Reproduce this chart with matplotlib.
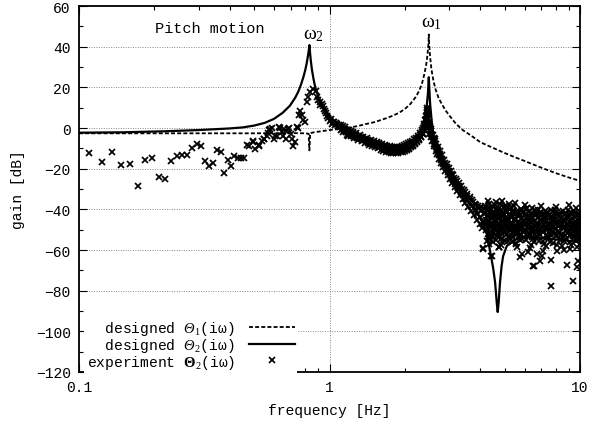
import matplotlib
matplotlib.use("Agg")
import matplotlib.pyplot as plt
from matplotlib.ticker import FixedLocator, NullFormatter, MultipleLocator

plt.rcParams['font.family'] = ['Liberation Mono', 'DejaVu Sans']
plt.rcParams['mathtext.fontset'] = 'custom'
plt.rcParams['mathtext.rm'] = 'Liberation Serif'
plt.rcParams['mathtext.it'] = 'Liberation Serif:italic'
plt.rcParams['mathtext.sf'] = 'Liberation Serif:italic'   # used for the italic capital Theta
plt.rcParams['mathtext.bf'] = 'Liberation Serif:bold'

# designed Theta_1 (dashed)
theta1_freq = [0.1, 0.2, 0.3, 0.5, 0.7, 0.8, 0.825, 0.831, 0.837, 0.85, 0.9, 1.0, 1.1, 1.2,
               1.3, 1.4, 1.5, 1.6, 1.7, 1.8, 1.9, 2.0, 2.1, 2.2, 2.28, 2.34, 2.39, 2.43, 2.46,
               2.48, 2.49, 2.50, 2.52, 2.55, 2.6, 2.65, 2.72, 2.8, 2.9, 3.0, 3.2, 3.4, 3.6, 3.8,
               4.0, 4.5, 5.0, 5.5, 6.0, 7.0, 8.0, 9.0, 10.0]
theta1_gain = [-2.6, -2.6, -2.6, -2.6, -2.5, -2.6, -2.8, -11.0, -2.6, -2.3, -1.8, -1.0, -0.4, 0.2,
               1.0, 2.0, 2.8, 3.9, 5.0, 6.2, 7.6, 9.4, 11.8, 15.0, 18.3, 22.0, 26.5, 31.0, 36.0,
               41.0, 46.0, 41.0, 35.0, 29.0, 23.0, 19.0, 15.0, 12.0, 8.8, 6.3, 2.0, -1.0, -3.0, -5.0,
               -7.0, -9.8, -12.3, -14.4, -16.2, -19.5, -22.2, -24.3, -26.0]

# designed Theta_2 (solid)
theta2_freq = [0.1, 0.15, 0.22, 0.3, 0.4, 0.45, 0.5, 0.55, 0.6, 0.65, 0.695, 0.73, 0.751, 0.77,
               0.786, 0.8, 0.811, 0.82, 0.827, 0.831, 0.836, 0.842, 0.851, 0.862, 0.875, 0.895,
               0.916, 0.95, 1.0, 1.05, 1.1, 1.2, 1.325, 1.49, 1.65, 1.79, 1.91, 2.0, 2.1, 2.2,
               2.3, 2.38, 2.41, 2.44, 2.47, 2.49, 2.5, 2.52, 2.55, 2.58, 2.62, 2.68, 2.76, 2.94,
               3.12, 3.32, 3.53, 3.87, 4.1, 4.24, 4.38, 4.5, 4.58, 4.65, 4.69, 4.73, 4.79, 4.86,
               4.93, 5.1, 5.4, 5.7, 6.2, 7.0, 8.0, 9.0, 10.0]
theta2_gain = [-2.3, -2.1, -1.6, -1.0, -0.2, 0.3, 1.2, 2.5, 4.5, 7.5, 11.0, 15.0, 18.0, 21.5,
               25.0, 28.5, 32.0, 35.5, 38.5, 40.8, 37.0, 33.0, 28.5, 24.5, 20.5, 16.5,
               13.5, 10.0, 6.0, 3.2, 1.0, -2.0, -4.5, -7.5, -9.5, -10.3, -10.5, -10.0, -8.7, -7.0,
               -4.5, 0.0, 4.4, 10.0, 17.0, 25.0, 20.0, 12.0, 5.0, -1.0, -6.0, -10.5, -14.0, -20.0,
               -25.0, -30.0, -35.0, -41.0, -47.0, -52.0, -61.0, -69.0, -76.0, -86.0, -90.5, -86.0, -76.0, -68.0,
               -63.0, -58.0, -55.6, -54.2, -53.6, -54.0, -54.8, -55.5, -56.0]

# experiment Theta_2 (markers)
exp_freq = [
    0.110, 0.123, 0.135, 0.147, 0.160, 0.172, 0.184, 0.196, 0.209, 0.221, 0.233, 0.246,
    0.257, 0.271, 0.283, 0.295, 0.307, 0.318, 0.330, 0.344, 0.357, 0.368, 0.380, 0.392,
    0.403, 0.417, 0.430, 0.442, 0.456, 0.467, 0.478, 0.494, 0.506, 0.522, 0.536, 0.549,
    0.561, 0.575, 0.588, 0.600, 0.615, 0.630, 0.644, 0.658, 0.670, 0.685, 0.702, 0.717,
    0.728, 0.740, 0.758,
    0.497, 0.524, 0.548, 0.570, 0.581, 0.605, 0.637, 0.653, 0.673, 0.690, 0.706, 0.751,
    0.762, 0.775, 0.786, 0.797, 0.810, 0.823, 0.838, 0.862, 0.887, 0.890, 0.915, 0.938,
    0.960, 0.980, 1.00, 1.03, 1.07, 1.10, 1.15, 1.19,
    0.90, 0.92, 0.93, 0.95, 0.97, 0.99, 1.01, 1.02, 1.04, 1.05, 1.06, 1.08, 1.09, 1.11,
    1.12, 1.13, 1.14, 1.15, 1.16, 1.17, 1.18, 1.19, 1.20, 1.21, 1.22, 1.23, 1.24, 1.25,
    1.26, 1.27, 1.28, 1.29, 1.30, 1.31, 1.33, 1.34, 1.35, 1.37, 1.38, 1.40, 1.42, 1.43,
    1.45, 1.47, 1.49, 1.51, 1.53, 1.55, 1.57, 1.59, 1.61, 1.63, 1.65, 1.67, 1.69, 1.71,
    1.73, 1.75, 1.77, 1.79, 1.81, 1.83, 1.85, 1.87, 1.89, 1.91, 1.93, 1.95, 1.97, 1.99,
    2.01, 2.03, 2.05, 2.07, 2.09, 2.11, 2.13, 2.15, 2.17, 2.19, 2.21, 2.23, 2.25, 2.27,
    2.29, 2.31, 2.33, 2.35, 2.37, 2.38, 2.39, 2.40, 2.41, 2.42, 2.43, 2.44, 2.45, 2.46,
    1.115, 1.135, 1.155, 1.175, 1.195, 1.215, 1.235, 1.255, 1.275, 1.295, 1.32, 1.345,
    1.365, 1.39, 1.41, 1.44, 1.46, 1.48, 1.50, 1.52, 1.54, 1.56, 1.58, 1.60, 1.62, 1.64,
    1.66, 1.68, 1.70, 1.72, 1.74, 1.76, 1.78, 1.80, 1.82, 1.84, 1.86, 1.88, 1.90, 1.92,
    1.94, 1.96, 1.98, 2.00, 2.02, 2.04, 2.06, 2.08, 2.10, 2.12, 2.14, 2.16, 2.18, 2.20,
    2.22, 2.24, 2.26, 2.28, 2.30, 2.32, 2.34, 2.36, 2.38, 2.40, 2.42, 2.44, 2.46, 2.45,
    2.47, 2.48, 2.49, 2.50, 2.51, 2.52, 2.53, 2.54, 2.55, 2.57, 2.58, 2.60, 2.62, 2.64,
    2.66, 2.68, 2.70, 2.72, 2.74, 2.77, 2.79, 2.82, 2.85, 2.88, 2.91, 2.94, 2.97, 3.00,
    3.04, 3.07, 3.10, 3.14, 3.18, 3.22, 3.26, 3.30, 3.34, 3.38, 3.42, 3.46, 3.50, 3.55,
    3.60, 3.64, 3.69, 3.74, 3.79, 3.84, 3.89, 3.94, 3.99, 4.04, 4.09, 4.14,
    2.475, 2.505, 2.535, 2.565, 2.59, 2.61, 2.63, 2.65, 2.67, 2.69, 2.71, 2.73, 2.76, 2.78,
    2.81, 2.84, 2.87, 2.90, 2.93, 2.96, 2.99, 3.02, 3.05, 3.09, 3.12, 3.16, 3.20, 3.24,
    3.28, 3.32, 3.36, 3.40, 3.44, 3.48, 3.53, 3.58, 3.62, 3.67, 3.72, 3.77, 3.82, 3.87,
    3.92, 3.97, 4.02, 4.07, 4.12, 4.16,
    4.18, 4.21, 4.24, 4.27, 4.30, 4.33, 4.36, 4.39, 4.42, 4.45, 4.48, 4.51, 4.54, 4.57,
    4.60, 4.63, 4.66, 4.69, 4.72, 4.75, 4.78, 4.81, 4.84, 4.87, 4.90, 4.93, 4.96, 4.99,
    5.03, 5.06, 5.10, 5.13, 5.17, 5.20, 5.24, 5.27, 5.31, 5.35, 5.38, 5.42, 5.46, 5.50,
    5.54, 5.58, 5.62, 5.66, 5.70, 5.74, 5.78, 5.82, 5.86, 5.90, 5.95, 6.00, 6.05, 6.10,
    6.15, 6.20, 6.25, 6.30, 6.35, 6.40, 6.45, 6.50, 6.55, 6.60, 6.65, 6.70, 6.75, 6.80,
    6.86, 6.92, 6.98, 7.04, 7.10, 7.16, 7.22, 7.28, 7.34, 7.40, 7.46, 7.52, 7.58, 7.64,
    7.70, 7.76, 7.82, 7.88, 7.94, 8.00, 8.07, 8.14, 8.21, 8.28, 8.35, 8.42, 8.49, 8.56,
    8.63, 8.70, 8.77, 8.84, 8.91, 8.98, 9.05, 9.12, 9.19, 9.26, 9.33, 9.40, 9.47, 9.54,
    9.61, 9.68, 9.75, 9.82, 9.89, 9.95, 10.0,
    4.22, 4.31, 4.40, 4.50, 4.59, 4.68, 4.77, 4.86, 4.95, 5.05, 5.15, 5.25, 5.36, 5.47,
    5.59, 5.71, 5.84, 5.97, 6.12, 6.27, 6.42, 6.58, 6.73, 6.89, 7.07, 7.25, 7.43, 7.61,
    7.79, 7.97, 8.17, 8.38, 8.59, 8.81, 9.02, 9.23, 9.44, 9.65, 9.86, 9.98,
    4.19, 4.26, 4.29, 4.35, 4.41, 4.44, 4.47, 4.53, 4.56, 4.62, 4.65, 4.71, 4.74, 4.80,
    4.83, 4.89, 4.92, 4.98, 5.01, 5.08, 5.12, 5.19, 5.22, 5.29, 5.33, 5.40, 5.44, 5.52,
    5.56, 5.64, 5.68, 5.76, 5.80, 5.88, 5.93, 6.02, 6.07, 6.17, 6.22, 6.32, 6.37, 6.47,
    6.52, 6.62, 6.68, 6.78, 6.83, 6.95, 7.01, 7.13, 7.19, 7.31, 7.37, 7.49, 7.55, 7.67,
    7.73, 7.85, 7.91, 8.04, 8.11, 8.25, 8.32, 8.46, 8.53, 8.67, 8.74, 8.88, 8.95, 9.09,
    9.16, 9.30, 9.37, 9.51, 9.58, 9.72, 9.79, 9.92, 9.99, 4.34, 4.85, 5.57, 6.39, 7.20,
    8.10, 9.20, 9.70,
    4.20, 4.25, 4.28, 4.32, 4.37, 4.43, 4.49, 4.52, 4.58, 4.61, 4.67, 4.70, 4.76, 4.82,
    4.88, 4.94, 5.00, 5.07, 5.11, 5.18, 5.23, 5.30, 5.34, 5.41, 5.48, 5.53, 5.61, 5.67,
    5.73, 5.81, 5.87, 5.94, 6.03, 6.09, 6.18, 6.24, 6.33, 6.41, 6.49, 6.56, 6.63, 6.72,
    6.81, 6.90, 6.99, 7.08, 7.17, 7.27, 7.36, 7.45, 7.54, 7.63, 7.72, 7.81, 7.90, 8.01,
    8.12, 8.23, 8.34, 8.44, 8.55, 8.66, 8.76, 8.87, 8.97, 9.08, 9.18, 9.28, 9.39, 9.49,
    9.60, 9.71, 9.80, 9.90, 9.97,
    4.09, 4.11, 4.40, 4.45, 4.74, 4.76, 5.76, 5.85, 6.22, 6.51, 6.57, 6.92, 7.02, 7.10,
    7.64, 7.64, 8.07, 8.45, 8.89, 9.12, 9.35, 9.75, 9.84, 5.60, 6.30, 6.70, 7.30, 8.60,
    4.30, 4.60, 4.90, 5.20, 5.50, 6.00, 7.00, 8.00, 9.00, 9.60,
]
exp_gain = [
    -12.4, -16.9, -11.6, -18.0, -17.7, -28.4, -15.7, -14.8, -24.3, -25.1, -16.1, -13.6,
    -13.1, -13.1, -9.8, -7.9, -8.7, -16.4, -18.5, -17.2, -10.8, -11.6, -22.1, -15.7,
    -18.9, -13.6, -14.9, -14.9, -14.9, -8.2, -8.7, -6.5, -10.3, -8.2, -6.2, -5.4,
    -3.8, -1.0, -0.1, -5.4, -3.8, 0.3, -2.1, -0.5, -5.4, -0.5, -3.0, -8.7,
    -7.0, 0.3, 6.4,
    -6.7, -9.0, -5.4, -2.5, -0.5, -4.1, -0.2, -3.8, -1.3, -0.2, -5.4, -0.2,
    8.5, 6.4, 4.1, 2.8, 12.6, 15.1, 17.6, 19.2, 18.3, 15.1, 12.6, 10.7,
    8.5, 6.1, 3.6, 2.8, 2.0, 0.3, -1.3, -3.8,
    14.0, 11.5, 12.0, 9.5, 7.5, 5.0, 4.5, 2.2, 3.0, 1.5, 2.5, 0.8, 1.5, -0.8,
    -0.5, 0.8, -1.2, -0.3, -2.0, -1.1, -2.4, -1.5, -3.0, -2.2, -1.6, -3.4, -2.6, -3.9,
    -3.0, -4.3, -3.5, -4.8, -3.9, -5.1, -4.5, -5.6, -4.8, -6.1, -5.2, -6.4, -5.9, -7.2,
    -6.5, -7.7, -6.9, -8.2, -7.4, -8.8, -8.0, -9.3, -8.5, -9.8, -8.9, -10.2, -9.3, -10.6,
    -9.6, -11.1, -9.9, -11.4, -10.1, -11.0, -9.8, -11.3, -10.4, -11.5, -10.0, -11.0, -9.6, -10.6,
    -9.2, -10.1, -8.7, -9.6, -8.0, -9.0, -7.6, -8.3, -6.8, -7.6, -6.0, -6.6, -4.8, -5.5,
    -3.6, -4.2, -2.0, -2.8, 0.0, -1.0, 2.0, 0.5, 4.0, 2.5, 6.0, 8.0, 10.0, 6.5,
    1.5, -2.0, 0.5, -3.2, -0.8, -3.8, -1.8, -5.0, -2.6, -5.8, -3.4, -6.5,
    -4.2, -7.3, -5.0, -8.2, -5.8, -8.9, -6.4, -9.4, -7.0, -10.0, -7.6, -10.6, -8.0, -11.2,
    -8.4, -11.6, -8.8, -12.0, -9.0, -12.2, -9.2, -12.4, -9.3, -12.3, -9.2, -12.2, -9.1, -12.0,
    -8.9, -11.7, -8.5, -11.3, -8.0, -10.8, -7.5, -10.2, -6.9, -9.5, -6.3, -8.8, -5.6, -8.0,
    -4.8, -7.0, -3.8, -5.8, -2.5, -4.4, -1.0, -2.8, 1.0, -1.0, 4.5, 3.0, 9.0, 4.5,
    7.0, 4.5, 1.5, 3.0, -1.0, 0.5, -3.0, -1.5, -4.5, -3.5, -6.0, -5.0, -8.0, -6.5,
    -9.5, -10.5, -12.0, -11.0, -13.5, -13.0, -15.5, -15.0, -17.5, -17.0, -19.5, -19.0, -21.5, -21.0,
    -23.5, -22.5, -25.5, -24.5, -27.5, -26.0, -29.5, -28.5, -31.5, -30.0, -33.0, -31.5, -35.0, -33.5,
    -37.0, -35.0, -38.5, -36.5, -40.5, -38.0, -42.5, -39.5, -44.0, -41.0, -46.0, -42.5,
    2.0, -3.0, -0.5, -6.5, -3.5, -9.0, -5.5, -11.5, -8.0, -13.0, -9.5, -15.0, -11.5, -17.0,
    -13.5, -19.0, -15.5, -21.0, -17.5, -23.0, -19.5, -25.0, -21.0, -27.0, -23.0, -29.0, -25.0, -31.0,
    -27.0, -33.0, -28.5, -35.0, -30.5, -37.0, -32.5, -39.0, -34.0, -41.0, -35.5, -43.0, -37.5, -45.0,
    -38.5, -47.0, -39.0, -49.0, -40.0, -46.0,
    -38.5, -45.0, -40.5, -48.5, -43.0, -37.5, -51.0, -44.5, -40.0, -53.5, -46.5, -41.5, -49.5, -38.0,
    -55.0, -45.5, -42.0, -51.5, -47.0, -39.5, -53.0, -44.0, -49.0, -41.0, -56.0, -46.0, -50.5, -43.0,
    -38.5, -52.5, -47.5, -41.5, -55.5, -45.0, -50.0, -43.5, -39.5, -53.0, -47.0, -42.0, -51.0, -44.5,
    -56.5, -48.5, -41.0, -46.0, -52.5, -43.0, -49.5, -40.0, -54.5, -45.5, -50.5, -42.5, -47.5, -55.0,
    -44.0, -49.0, -41.5, -52.0, -46.0, -39.5, -50.0, -44.5, -56.0, -48.0, -42.5, -53.5, -46.5, -40.5,
    -51.5, -45.0, -49.5, -43.0, -55.5, -47.5, -41.0, -52.5, -45.5, -50.0, -43.5, -54.0, -47.0, -40.5,
    -51.0, -44.0, -56.5, -48.5, -42.0, -53.0, -46.0, -50.5, -43.5, -55.0, -47.5, -41.5, -52.0, -45.0,
    -49.0, -43.0, -54.5, -47.0, -40.5, -51.5, -45.5, -56.0, -48.5, -42.5, -53.0, -46.5, -50.5, -44.0,
    -55.5, -48.0, -43.0, -52.0, -46.0, -57.0, -49.5,
    -50.0, -53.0, -47.5, -56.0, -43.5, -48.0, -42.5, -52.0, -39.0, -45.5, -49.0, -54.0, -44.0, -38.5,
    -52.0, -48.0, -44.5, -53.5, -39.5, -47.0, -53.5, -43.0, -49.5, -42.0, -48.5, -44.0, -53.5, -50.0,
    -45.5, -40.5, -48.0, -44.5, -55.5, -42.0, -50.0, -45.0, -41.0, -51.5, -42.5, -54.5,
    -42.0, -55.5, -39.5, -47.0, -55.0, -42.5, -38.5, -51.5, -45.0, -40.0, -53.0, -44.0, -49.5, -37.5,
    -54.5, -46.0, -42.0, -48.0, -55.5, -44.5, -39.0, -50.0, -42.5, -47.5, -56.0, -41.0, -49.0, -45.0,
    -52.0, -42.0, -49.5, -55.0, -46.5, -40.5, -51.0, -46.0, -40.0, -53.0, -45.5, -48.5, -42.0, -54.5,
    -47.5, -40.5, -51.0, -44.5, -55.5, -47.0, -41.5, -51.0, -44.5, -49.0, -41.5, -46.5, -56.0, -44.0,
    -48.5, -52.0, -45.0, -49.5, -43.0, -51.5, -45.5, -47.0, -41.0, -52.5, -46.0, -49.0, -44.0, -53.0,
    -42.0, -47.5, -51.0, -48.0, -42.0, -54.0, -47.0, -44.5, -51.0, -57.0, -57.5, -57.0, -57.5, -57.0,
    -57.5, -57.5, -58.5,
    -47.0, -43.5, -52.0, -45.5, -41.0, -49.0, -43.0, -47.5, -52.5, -49.5, -44.5, -40.5, -46.5, -50.5,
    -43.5, -48.5, -51.0, -40.5, -45.0, -53.0, -47.0, -44.0, -49.5, -53.5, -48.5, -41.5, -50.5, -43.5,
    -47.0, -52.5, -48.0, -42.0, -50.0, -44.5, -49.5, -51.5, -44.0, -48.5, -51.0, -45.5, -50.5, -47.5,
    -42.5, -52.5, -45.0, -50.5, -42.5, -46.0, -53.0, -49.0, -43.0, -52.5, -46.5, -50.5, -43.5, -46.0,
    -52.5, -47.5, -42.5, -53.5, -48.5, -45.0, -50.5, -43.5, -47.5, -41.5, -52.0, -44.5, -49.0, -53.0,
    -46.0, -50.0, -45.0, -49.0, -41.5,
    -59.2, -59.5, -62.8, -62.8, -58.7, -58.7, -63.6, -62.0, -61.0, -67.7, -67.7, -65.3, -62.8, -60.4,
    -65.0, -77.9, -60.4, -57.9, -67.2, -59.5, -75.1, -68.5, -65.3, -58.5, -59.0, -62.0, -58.0, -60.0,
    -36.0, -36.5, -36.0, -37.5, -37.0, -38.0, -38.5, -39.0, -38.0, -39.5,
]

fig = plt.figure(figsize=(6.03, 4.27), dpi=100)
ax = fig.add_axes([0.131, 0.1265, 0.831, 0.857])

ax.plot(theta1_freq, theta1_gain, color='black', lw=1.3, linestyle=(0, (2.2, 1.2)),
        label='  designed $\\mathsf{Θ}_1$(iω)')
ax.plot(theta2_freq, theta2_gain, color='black', lw=1.6, linestyle='-',
        label='  designed $\\mathsf{Θ}_2$(iω)')
ax.plot(exp_freq, exp_gain, linestyle='none', marker='x', color='black',
        markersize=4.0, markeredgewidth=1.25,
        label='experiment $\\mathbf{Θ}_2$(iω)')

ax.set_xscale('log')
ax.set_xlim(0.1, 10)
ax.set_ylim(-120, 60)
ax.xaxis.set_major_locator(FixedLocator([0.1, 1, 10]))
ax.set_xticklabels(['0.1', '1', '10'])
ax.xaxis.set_minor_locator(FixedLocator([0.2, 0.3, 0.4, 0.5, 0.6, 0.7, 0.8, 0.9,
                                         2, 3, 4, 5, 6, 7, 8, 9]))
ax.xaxis.set_minor_formatter(NullFormatter())
ax.yaxis.set_major_locator(MultipleLocator(20))
ax.yaxis.set_minor_locator(MultipleLocator(10))

ax.tick_params(which='both', direction='in', top=True, right=True, labelsize=10.5)
ax.tick_params(which='major', length=6, width=0.8, pad=6)
ax.tick_params(which='minor', length=3, width=0.8)
for s in ax.spines.values():
    s.set_linewidth(1.3)

ax.grid(which='major', linestyle=(0, (1, 1.5)), color='#888888', lw=0.7)

ax.set_xlabel('frequency [Hz]', fontsize=10.5, labelpad=6)
ax.set_ylabel('gain [dB]', fontsize=10.5, labelpad=8)

ax.text(0.334, 49, 'Pitch motion', fontsize=11, ha='center', va='center')
ax.text(0.86, 46, '$\\mathrm{\\omega}_2$', fontsize=14, ha='center', va='center')
ax.text(2.56, 52, '$\\mathrm{\\omega}_1$', fontsize=14, ha='center', va='center')

leg = ax.legend(loc='lower left', bbox_to_anchor=(0.005, -0.01), markerfirst=False,
                numpoints=1, handlelength=3.1, handletextpad=1.0, labelspacing=-0.1,
                borderaxespad=0.15, borderpad=0.2, fontsize=10.5, frameon=True,
                fancybox=False, framealpha=1.0, edgecolor='none', facecolor='white')

fig.savefig('out.png', dpi=100)
